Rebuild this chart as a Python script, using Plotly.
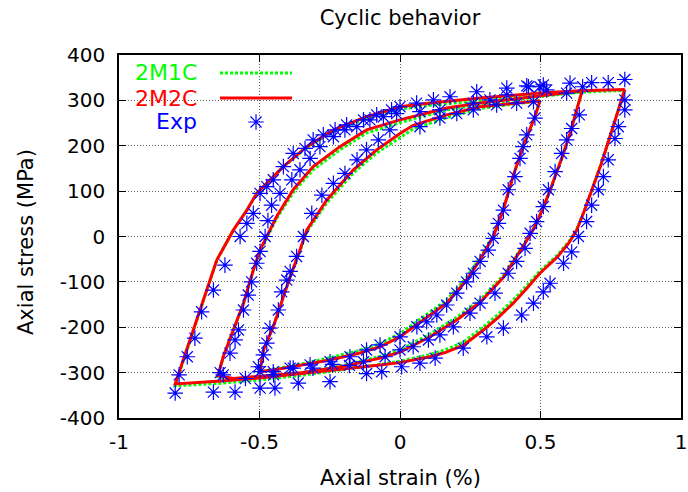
import plotly.graph_objects as go

# ---------------- axes ----------------
x_ticks = [-1, -0.5, 0, 0.5, 1]
x_tick_labels = ["-1", "-0.5", "0", "0.5", "1"]
y_ticks = [-400, -300, -200, -100, 0, 100, 200, 300, 400]
y_tick_labels = ["-400", "-300", "-200", "-100", "0", "100", "200", "300", "400"]

series_names = ["2M1C", "2M2C", "Exp"]

# ---------------- model 2M2C (red) ----------------
m2c_l1_x = [0.498, 0.480, 0.438, 0.402, 0.367, 0.332, 0.285, 0.237, 0.166, 0.083, 0.000, -0.071, -0.150, -0.250, -0.350, -0.430, -0.498,
            -0.486, -0.451, -0.427, -0.391, -0.356, -0.332, -0.261, -0.166, -0.083, 0.000, 0.047, 0.166, 0.285, 0.402, 0.498]
m2c_l1_y = [299, 264, 198, 132, 58, 0, -51, -96, -147, -184, -221, -243, -258, -272, -284, -292, -298,
            -250, -199, -155, -89, -30, 14, 80, 147, 191, 227, 245, 268, 286, 294, 299]

m2c_l2_x = [0.648, 0.629, 0.605, 0.580, 0.555, 0.530, 0.505, 0.480, 0.450, 0.415, 0.368, 0.285, 0.202, 0.107, 0.000, -0.071, -0.200, -0.350, -0.500, -0.593, -0.648,
            -0.629, -0.593, -0.557, -0.522, -0.498, -0.463, -0.439, -0.380, -0.309, -0.214, -0.119, 0.000, 0.047, 0.166, 0.285, 0.427, 0.522, 0.648]
m2c_l2_y = [321, 279, 227, 180, 135, 95, 57, 22, -10, -45, -90, -145, -184, -221, -255, -268, -286, -300, -309, -313, -307,
            -265, -206, -147, -74, -30, 14, 44, 103, 154, 198, 235, 257, 264, 283, 294, 305, 312, 321]

m2c_l3_x = [0.800, 0.770, 0.747, 0.715, 0.682, 0.655, 0.629, 0.600, 0.560, 0.498, 0.450, 0.403, 0.350, 0.297, 0.225, 0.160, 0.107, 0.000, -0.071, -0.200, -0.350, -0.500, -0.650, -0.800,
            -0.652, -0.593, -0.545, -0.510, -0.415, -0.332, -0.237, -0.119, 0.000, 0.107, 0.285, 0.498, 0.641, 0.800]
m2c_l3_y = [324, 262, 220, 158, 100, 55, 14, -15, -45, -81, -115, -147, -178, -206, -240, -256, -265, -278, -283, -292, -303, -312, -319, -325,
            -52, 14, 58, 95, 154, 198, 235, 264, 286, 294, 305, 316, 321, 324]

# ---------------- model 2M1C (green) ----------------
m1c_l1_x = m2c_l1_x
m1c_l1_y = [299, 264, 198, 132, 58, 2, -46, -90, -140, -177, -214, -236, -252, -267, -281, -290, -298,
            -250, -199, -155, -89, -32, 10, 74, 140, 184, 219, 237, 262, 282, 292, 299]
m1c_l2_x = m2c_l2_x
m1c_l2_y = [321, 279, 227, 180, 135, 95, 57, 22, -8, -42, -86, -140, -178, -215, -250, -264, -284, -300, -310, -315, -309,
            -265, -206, -147, -74, -32, 10, 40, 97, 147, 191, 228, 251, 259, 279, 291, 303, 310, 319]
m1c_l3_x = m2c_l3_x
m1c_l3_y = [324, 262, 220, 158, 100, 55, 16, -12, -41, -76, -109, -140, -171, -199, -233, -250, -260, -275, -282, -293, -306, -316, -324, -329,
            -52, 14, 58, 95, 154, 196, 232, 260, 281, 289, 300, 311, 318, 322]

# ---------------- experiment (blue asterisks) ----------------
exp_l1_x = [0.498, 0.451, 0.480, 0.451, 0.438, 0.427, 0.409, 0.385, 0.368, 0.350, 0.332, 0.314, 0.285, 0.261, 0.237, 0.202, 0.166, 0.131, 0.095, 0.060, 0.000, -0.071, -0.119, -0.178, -0.249, -0.320, -0.391, -0.451, -0.498,
            -0.504, -0.486, -0.474, -0.463, -0.433, -0.421, -0.403, -0.391, -0.368, -0.344, -0.314, -0.278, -0.237, -0.196, -0.153, -0.119, -0.077, -0.036, 0.071, 0.142, 0.202, 0.261, 0.344, 0.415, 0.475]
exp_l1_y = [330, 332, 261, 224, 198, 172, 132, 103, 58, 29, -4, -30, -55, -81, -100, -125, -151, -173, -188, -199, -221, -239, -250, -265, -276, -283, -290, -298, -298,
            -287, -261, -235, -202, -162, -122, -96, -77, -44, 0, 51, 91, 117, 139, 169, 191, 213, 235, 242, 261, 271, 279, 290, 294, 297]

exp_l2_x = [0.650, 0.638, 0.611, 0.593, 0.575, 0.552, 0.528, 0.510, 0.486, 0.463, 0.445, 0.415, 0.385, 0.338, 0.285, 0.249, 0.190, 0.142, 0.101, 0.047, 0.000, -0.053, -0.130, -0.180, -0.240, -0.310, -0.380, -0.450, -0.550, -0.640,
            -0.629, -0.605, -0.587, -0.575, -0.557, -0.540, -0.528, -0.510, -0.498, -0.480, -0.470, -0.457, -0.427, -0.385, -0.356, -0.320, -0.285, -0.237, -0.196, -0.154, -0.107, -0.059, -0.012, 0.071, 0.142, 0.261, 0.320, 0.380, 0.457, 0.522, 0.593]
exp_l2_y = [330, 268, 238, 213, 183, 143, 103, 66, 33, 7, -26, -55, -81, -125, -147, -169, -199, -217, -228, -243, -250, -265, -276, -284, -282, -290, -290, -305, -313, -300,
            -305, -257, -228, -206, -162, -129, -100, -59, -33, 0, 35, 69, 95, 125, 147, 172, 198, 220, 235, 242, 257, 264, 271, 275, 279, 294, 301, 312, 330, 323, 316]

exp_l3_x = [0.800, 0.800, 0.800, 0.777, 0.765, 0.741, 0.724, 0.706, 0.682, 0.664, 0.635, 0.611, 0.582, 0.534, 0.510, 0.475, 0.433, 0.368, 0.309, 0.225, 0.125, 0.071, 0.006, -0.065, -0.119, -0.249, -0.362, -0.445, -0.498, -0.587, -0.664, -0.800,
            -0.786, -0.757, -0.730, -0.706, -0.664, -0.623, -0.569, -0.545, -0.522, -0.498, -0.474, -0.451, -0.415, -0.380, -0.338, -0.309, -0.273, -0.231, -0.190, -0.130, -0.083, -0.030, 0.000, 0.059, 0.119, 0.178, 0.273, 0.380, 0.510, 0.605, 0.682, 0.741]
exp_l3_y = [346, 301, 279, 242, 216, 169, 132, 103, 69, 33, 0, -34, -59, -103, -122, -147, -173, -202, -221, -246, -268, -279, -287, -298, -302, -320, -323, -334, -334, -343, -343, -345,
            -305, -265, -224, -166, -118, -63, 0, 29, 51, 95, 110, 125, 154, 183, 194, 213, 224, 235, 246, 257, 268, 279, 286, 294, 301, 308, 319, 327, 334, 338, 339, 339]

GREEN = "#00ff00"
RED = "#ff0000"
BLUE = "#0000ff"
FONT = "DejaVu Sans"

fig = go.Figure()

for xs, ys in [(m1c_l1_x, m1c_l1_y), (m1c_l2_x, m1c_l2_y), (m1c_l3_x, m1c_l3_y)]:
    fig.add_trace(go.Scatter(x=xs, y=ys, mode="lines", name=series_names[0], showlegend=False,
                             line=dict(color=GREEN, width=3, dash="3px,2px")))
for xs, ys in [(m2c_l1_x, m2c_l1_y), (m2c_l2_x, m2c_l2_y), (m2c_l3_x, m2c_l3_y)]:
    fig.add_trace(go.Scatter(x=xs, y=ys, mode="lines", name=series_names[1], showlegend=False,
                             line=dict(color=RED, width=3)))
for xs, ys in [(exp_l1_x, exp_l1_y), (exp_l2_x, exp_l2_y), (exp_l3_x, exp_l3_y)]:
    fig.add_trace(go.Scatter(x=xs, y=ys, mode="markers", name=series_names[2], showlegend=False,
                             marker=dict(symbol="asterisk-open", size=13, color=BLUE,
                                         line=dict(color=BLUE, width=1.2))))

# legend key marker on a hidden overlay axis (0..1 = plot area)
fig.add_trace(go.Scatter(x=[0.2438], y=[0.8154], xaxis="x2", yaxis="y2", mode="markers",
                         showlegend=False, hoverinfo="skip",
                         marker=dict(symbol="asterisk-open", size=13, color=BLUE,
                                     line=dict(color=BLUE, width=1.2))))

axis_common = dict(showline=True, linecolor="black", linewidth=1.5, mirror="ticks",
                   ticks="inside", ticklen=7, tickwidth=1, tickcolor="black",
                   showgrid=True, gridcolor="#606060", gridwidth=1, griddash="1px,2px",
                   zeroline=False, automargin=False,
                   tickfont=dict(family=FONT, size=20, color="black"))

fig.update_layout(
    width=688, height=492,
    margin=dict(l=119, r=7, t=55, b=74, autoexpand=False),
    paper_bgcolor="white", plot_bgcolor="white",
    showlegend=False,
    font=dict(family=FONT, color="black"),
    title=dict(text="Cyclic behavior", x=0.5, xref="paper", xanchor="center",
               y=1 - 18 / 492, yref="container", yanchor="middle",
               font=dict(family=FONT, size=21, color="black")),
    xaxis=dict(range=[-1, 1], tickvals=x_ticks, ticktext=x_tick_labels, ticklabelstandoff=5, **axis_common),
    yaxis=dict(range=[-400, 400], tickvals=y_ticks, ticktext=y_tick_labels, ticklabelstandoff=8, **axis_common),
    xaxis2=dict(overlaying="x", range=[0, 1], visible=False, automargin=False),
    yaxis2=dict(overlaying="y", range=[0, 1], visible=False, automargin=False),
)

# axis titles
fig.add_annotation(text="Axial strain (%)", xref="paper", yref="paper", x=0.5, y=(418 - 478) / 363,
                   showarrow=False, xanchor="center", yanchor="middle",
                   font=dict(family=FONT, size=21, color="black"))
fig.add_annotation(text="Axial stress (MPa)", xref="paper", yref="paper", x=(26 - 119) / 562, y=(418 - 242) / 363,
                   showarrow=False, xanchor="center", yanchor="middle", textangle=-90,
                   font=dict(family=FONT, size=21, color="black"))

# legend (gnuplot style: text, then key sample)
legend_rows = [(series_names[0], GREEN, (418 - 73) / 363),
               (series_names[1], RED, (418 - 98) / 363),
               (series_names[2], BLUE, (418 - 122) / 363)]
for name, col, yy in legend_rows:
    fig.add_annotation(text=name, xref="paper", yref="paper", x=(199 - 119) / 562, y=yy,
                       showarrow=False, xanchor="right", yanchor="middle",
                       font=dict(family=FONT, size=22, color=col))
fig.add_shape(type="line", xref="paper", yref="paper", x0=(220 - 119) / 562, x1=(292 - 119) / 562,
              y0=legend_rows[0][2], y1=legend_rows[0][2], line=dict(color=GREEN, width=3, dash="3px,2px"))
fig.add_shape(type="line", xref="paper", yref="paper", x0=(220 - 119) / 562, x1=(292 - 119) / 562,
              y0=legend_rows[1][2], y1=legend_rows[1][2], line=dict(color=RED, width=3))

fig.write_html("out.html")
